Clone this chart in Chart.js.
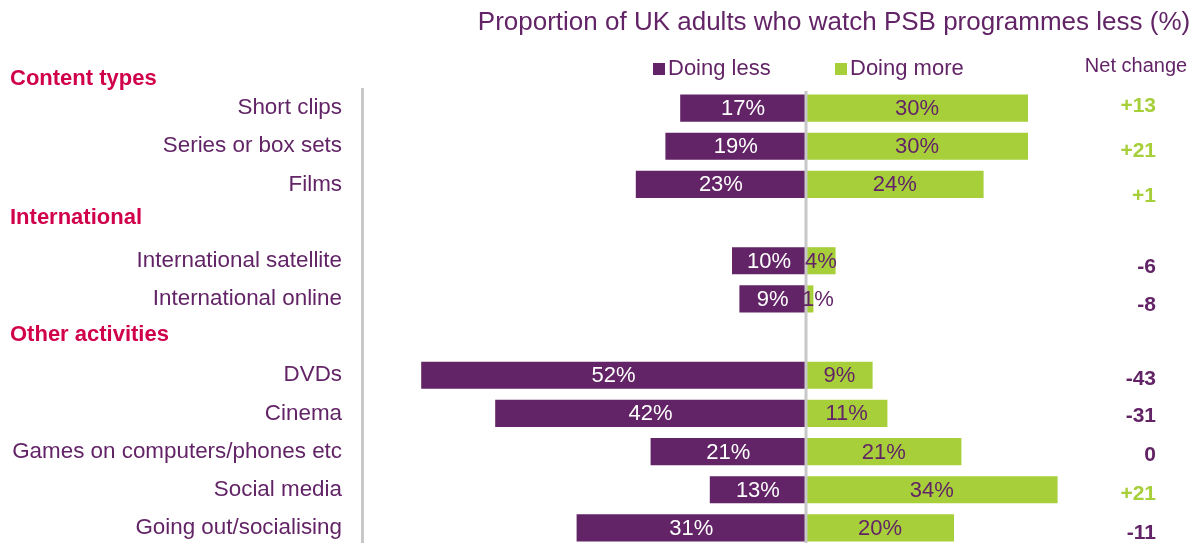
<!DOCTYPE html>
<html>
<head>
<meta charset="utf-8">
<script src="https://cdn.jsdelivr.net/npm/chart.js@4.4.1/dist/chart.umd.min.js"></script>
<style>
  html, body { margin: 0; padding: 0; background: #ffffff; overflow: hidden; }
  canvas { display: block; }
</style>
</head>
<body>
<canvas id="chart" width="1199" height="547"></canvas>
<script>
// Rows of the chart; empty strings are the slots that hold a section heading
const categories = [
  'Short clips', 'Series or box sets', 'Films', '',
  'International satellite', 'International online', '',
  'DVDs', 'Cinema', 'Games on computers/phones etc', 'Social media', 'Going out/socialising'
];
const doingLess = [17, 19, 23, null, 10, 9, null, 52, 42, 21, 13, 31];
const doingMore = [30, 30, 24, null, 4, 1, null, 9, 11, 21, 34, 20];
const netChange = [13, 21, 1, null, -6, -8, null, -43, -31, 0, 21, -11];

// Section headings and the row slot each one sits in
const sectionTitles = ['Content types', 'International', 'Other activities'];
const sectionSlots = [-1, 3, 6];

const PURPLE = '#622466';
const GREEN = '#a7cf3a';
const CRIMSON = '#d1004b';
const LINE_GREY = '#c8c8c8';
const FONT = '"Liberation Sans", Arial, sans-serif';

const overlay = {
  id: 'overlay',
  afterDatasetsDraw(chart) {
    const { ctx, chartArea, scales } = chart;
    const x = scales.x, y = scales.y;
    ctx.save();

    // centre line at zero
    const x0 = Math.round(x.getPixelForValue(0));
    ctx.strokeStyle = LINE_GREY;
    ctx.lineWidth = 3;
    ctx.beginPath();
    ctx.moveTo(x0, chartArea.top + 2);
    ctx.lineTo(x0, chartArea.bottom);
    ctx.stroke();

    // value labels inside the bars
    ctx.font = '22px ' + FONT;
    ctx.textAlign = 'center';
    ctx.textBaseline = 'middle';
    chart.data.datasets.forEach((ds, di) => {
      const meta = chart.getDatasetMeta(di);
      meta.data.forEach((bar, i) => {
        const v = ds.data[i];
        if (v === null || v === undefined) return;
        let cx = (bar.x + bar.base) / 2;
        if (di === 1 && Math.abs(bar.x - bar.base) < 20) cx = Math.max(cx, bar.base + 12);
        ctx.fillStyle = di === 0 ? '#ffffff' : PURPLE;
        ctx.fillText(Math.abs(v) + '%', cx, bar.y + 1);
      });
    });

    // net change column (its own slightly looser vertical rhythm)
    const netX = 1156;
    const netShift = [-2, 5, 12, 0, 6, 6, 0, 4, 3, 4, 4, 5];
    ctx.font = 'bold 21px ' + FONT;
    ctx.textAlign = 'right';
    netChange.forEach((v, i) => {
      if (v === null) return;
      ctx.fillStyle = v > 0 ? GREEN : PURPLE;
      const txt = v > 0 ? '+' + v : String(v);
      ctx.fillText(txt, netX, y.getPixelForValue(i) + netShift[i]);
    });

    // section headings
    ctx.font = 'bold 22px ' + FONT;
    ctx.textAlign = 'left';
    ctx.fillStyle = CRIMSON;
    const headOffsets = [9, -5, -2];
    sectionTitles.forEach((t, k) => {
      ctx.fillText(t, 10, y.getPixelForValue(sectionSlots[k]) + headOffsets[k]);
    });

    // title
    ctx.font = '26px ' + FONT;
    ctx.textAlign = 'center';
    ctx.fillStyle = PURPLE;
    ctx.fillText('Proportion of UK adults who watch PSB programmes less (%)', 834, 23);

    // legend
    ctx.font = '22px ' + FONT;
    ctx.textAlign = 'left';
    const legendItems = [
      { x: 653, color: chart.data.datasets[0].backgroundColor, label: chart.data.datasets[0].label },
      { x: 835, color: chart.data.datasets[1].backgroundColor, label: chart.data.datasets[1].label }
    ];
    legendItems.forEach(it => {
      ctx.fillStyle = it.color;
      ctx.fillRect(it.x, 63, 12, 12);
      ctx.fillStyle = PURPLE;
      ctx.fillText(it.label, it.x + 15, 69);
    });

    // net change heading
    ctx.font = '20px ' + FONT;
    ctx.textAlign = 'center';
    ctx.fillStyle = PURPLE;
    ctx.fillText('Net change', 1136, 66);

    ctx.restore();
  }
};

new Chart(document.getElementById('chart'), {
  type: 'bar',
  data: {
    labels: categories,
    datasets: [
      {
        label: 'Doing less',
        data: doingLess.map(v => v === null ? null : -v),
        backgroundColor: PURPLE,
        barPercentage: 0.71,
        categoryPercentage: 1
      },
      {
        label: 'Doing more',
        data: doingMore,
        backgroundColor: GREEN,
        barPercentage: 0.71,
        categoryPercentage: 1
      }
    ]
  },
  options: {
    indexAxis: 'y',
    responsive: false,
    animation: false,
    layout: { autoPadding: false, padding: { top: 89, right: 23, bottom: 0, left: 0 } },
    plugins: {
      legend: { display: false },
      tooltip: { enabled: false }
    },
    scales: {
      x: {
        display: false,
        stacked: true,
        min: -60,
        max: 50
      },
      y: {
        stacked: true,
        grid: { display: false },
        border: { display: true, color: LINE_GREY, width: 3 },
        ticks: {
          color: PURPLE,
          font: { family: FONT, size: 22.4 },
          padding: 12,
          autoSkip: false
        },
        afterFit(scale) {
          scale.width = 362;
          scale.paddingTop = 0;
          scale.paddingBottom = 0;
        }
      }
    }
  },
  plugins: [overlay]
});
</script>
</body>
</html>
